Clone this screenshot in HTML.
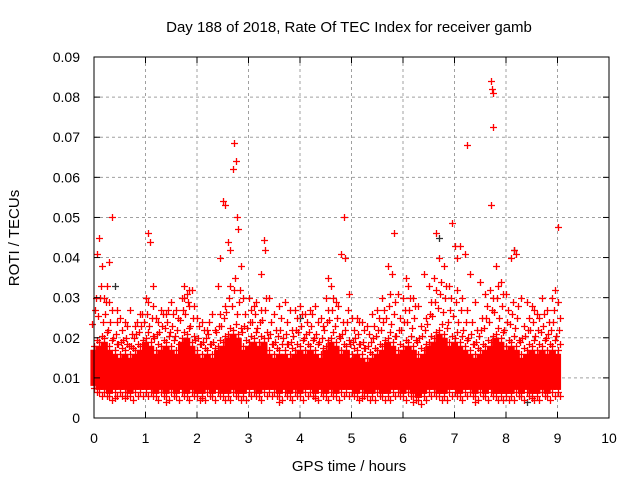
<!DOCTYPE html>
<html><head><meta charset="utf-8"><style>
body{margin:0;background:#fff}
svg{display:block;font-family:"Liberation Sans",sans-serif}
</style></head><body>
<svg id="c" width="640" height="480">
<text x="349" y="32" font-size="15" text-anchor="middle">Day 188 of 2018, Rate Of TEC Index for receiver gamb</text>
<text x="349" y="471" font-size="15" text-anchor="middle">GPS time / hours</text>
<text x="19" y="238" font-size="15" text-anchor="middle" transform="rotate(-90 19 238)">ROTI / TECUs</text>
<g id="grid"></g><g id="marks"></g><g id="axes"></g>
</svg>
<script>
const colTimes = [0,0.1,0.2,0.3,0.4,0.5,0.6,0.7,0.8,0.9,1,1.1,1.2,1.3,1.4,1.5,1.6,1.7,1.8,1.9,2,2.1,2.2,2.3,2.4,2.5,2.6,2.7,2.8,2.9,3,3.1,3.2,3.3,3.4,3.5,3.6,3.7,3.8,3.9,4,4.1,4.2,4.3,4.4,4.5,4.6,4.7,4.8,4.9,5,5.1,5.2,5.3,5.4,5.5,5.6,5.7,5.8,5.9,6,6.1,6.2,6.3,6.4,6.5,6.6,6.7,6.8,6.9,7,7.1,7.2,7.3,7.4,7.5,7.6,7.7,7.8,7.9,8,8.1,8.2,8.3,8.4,8.5,8.6,8.7,8.8,8.9,9];
const coreLow = [8,7,7,6,7,7,7,6,7,7,7,7,6,7,6,7,6,7,6,7,6,6,7,6,7,6,6,7,6,6,7,7,6,7,7,7,6,7,6,7,6,7,7,6,7,6,7,6,7,7,7,6,7,6,6,7,6,6,7,7,6,7,6,5,6,7,7,6,6,7,7,6,7,7,6,7,6,7,6,6,6,6,7,6,7,6,6,7,6,7,7];
const coreHigh = [17,18,19,17,16,15,16,15,16,17,19,18,16,17,18,17,16,19,20,18,16,15,16,15,17,18,20,21,20,17,18,19,18,19,16,15,16,16,15,16,17,16,17,16,15,17,19,18,16,17,15,16,15,14,15,16,17,19,18,16,17,18,17,15,16,18,19,21,20,18,19,18,17,16,15,16,17,18,20,19,17,18,17,15,16,17,16,17,16,17,16];
const tierV = [30,33,29,27,24,22,23,21,24,26,29,28,24,26,27,26,25,30,32,28,23,22,24,22,26,28,33,35,32,26,27,29,27,30,24,22,25,24,22,25,26,24,26,24,23,27,30,28,24,27,22,24,22,21,23,25,27,31,29,25,27,30,28,23,25,29,32,34,33,30,32,30,27,24,22,25,28,30,33,31,27,29,28,23,25,27,25,26,24,27,25];
const scatterT = [0,0.05,0.1,0.15,0.2,0.25,0.3,0.35,0.45,0.5,0.6,0.7,0.8,0.9,1.0,1.05,1.08,1.15,1.2,1.3,1.4,1.5,1.6,1.7,1.75,1.8,1.85,1.9,2.0,2.1,2.2,2.3,2.4,2.45,2.5,2.55,2.6,2.65,2.7,2.72,2.75,2.78,2.8,2.85,2.9,3.0,3.1,3.25,3.3,3.32,3.4,3.5,3.6,3.7,3.8,3.9,4.0,4.1,4.2,4.3,4.4,4.5,4.55,4.6,4.7,4.8,4.85,4.88,4.95,5.0,5.1,5.2,5.3,5.4,5.5,5.6,5.7,5.78,5.82,5.9,6.0,6.05,6.1,6.2,6.3,6.4,6.5,6.6,6.65,6.7,6.8,6.9,6.95,7.0,7.05,7.1,7.2,7.25,7.3,7.4,7.5,7.6,7.68,7.7,7.72,7.75,7.75,7.7,7.8,7.9,8.0,8.1,8.15,8.2,8.3,8.4,8.5,8.6,8.7,8.8,8.9,8.95,9.0,9.0,0.3,0.6,1.4,2.1,3.6,4.3,5.2,6.2,7.4,8.5,0.4];
const scatterV = [17,41,45,38,30,33,29,50,27,25,24,27,23,26,30,46,44,33,25,27,26,29,27,30,33,31,28,32,25,24,22,26,33,40,54,53,44,42,62,68.5,64,50,47,38,30,30,28,36,44.5,42,30,26,28,29,27,27,28,26,27,28,25,30,35,33,29,41,50,40,31,25,25,24,23,26,27,30,38,36,46,31,30,35,33,30,28,36,33,35,46,40,38,33,48.5,43,40,43,41,68,36,29,34,31,32,84,82,81,72.5,53,38,34,31,40,42,41,30,29,28,26,30,27,30,32,29,47.5,39,5,4,5,4,5,5,4,4,5,5,83.5];
const darkT = [0.4,4.0,5.0,6.7,8.15,8.4];
const darkV = [33,25,14,45,42,4];
const xTicks = [0,1,2,3,4,5,6,7,8,9,10];
const yTicks = [0,0.01,0.02,0.03,0.04,0.05,0.06,0.07,0.08,0.09];
const X0=94,X1=609,Y0=418,Y1=57;
const xs=t=>X0+(t/10)*(X1-X0);
const ys=v=>Y0-(v/0.09)*(Y0-Y1);
const NS="http://www.w3.org/2000/svg";
function mk(tag,at,parent){const e=document.createElementNS(NS,tag);for(const k in at)e.setAttribute(k,at[k]);parent.appendChild(e);return e;}
const grid=document.getElementById('grid'),marks=document.getElementById('marks'),axes=document.getElementById('axes');
xTicks.forEach(t=>{const x=xs(t);
 if(t>0&&t<10){const g=mk('line',{x1:x,x2:x,y1:Y1,y2:Y0,stroke:'#a0a0a0','stroke-dasharray':'3,3'},grid);
 
 }
 mk('line',{x1:x,x2:x,y1:Y0,y2:Y0-6,stroke:'#000'},axes);mk('line',{x1:x,x2:x,y1:Y1,y2:Y1+6,stroke:'#000'},axes);
 const l=mk('text',{x:x,y:Y0+25,'font-size':14,'text-anchor':'middle'},axes);l.textContent=t;
 
 });
yTicks.forEach(v=>{const y=ys(v);
 if(v>0&&v<0.09){const g=mk('line',{x1:X0,x2:X1,y1:y,y2:y,stroke:'#a0a0a0','stroke-dasharray':'3,3'},grid);
 
 }
 mk('line',{x1:X0,x2:X0+6,y1:y,y2:y,stroke:'#000'},axes);mk('line',{x1:X1,x2:X1-6,y1:y,y2:y,stroke:'#000'},axes);
 const l=mk('text',{x:80,y:y+5,'font-size':14,'text-anchor':'end'},axes);l.textContent=v===0?'0':v.toFixed(2);
 
 });
const fr=mk('rect',{x:X0,y:Y1,width:X1-X0,height:Y0-Y1,fill:'none',stroke:'#000'},axes);


function plus(t,v,col){const x=Math.round(xs(t))+0.5,y=Math.round(ys(v))+0.5;
 const p=mk('path',{d:`M${x-3.5} ${y}h7M${x} ${y-3.5}v7`,stroke:col,'stroke-width':1.3,fill:'none'},marks);
 
 }
darkT.forEach((t,i)=>plus(t,darkV[i]/1000,'#333'));
colTimes.forEach((t,i)=>{const w=(X1-X0)/100;
 const r=mk('rect',{x:xs(t)-w/2-1,y:ys(coreHigh[i]/1000),width:w+2,height:ys(coreLow[i]/1000)-ys(coreHigh[i]/1000),fill:'#ff0000'},marks);
 
 
 const hi=coreHigh[i],tv=tierV[i];
 plus(t,(hi+1)/1000,'#ff0000');plus(t+0.05,(hi+2.5)/1000,'#ff0000');
 plus(t-0.03,((hi+tv)/2)/1000,'#ff0000');plus(t+0.04,tv/1000,'#ff0000');
 plus(t+0.02,(tv-3)/1000,'#ff0000');
 plus(t+0.05,(coreLow[i]-1.5)/1000,'#ff0000');plus(t,(coreLow[i]-0.5)/1000,'#ff0000');});
scatterT.forEach((t,i)=>plus(t,scatterV[i]/1000,'#ff0000'));
</script>
</body></html>
